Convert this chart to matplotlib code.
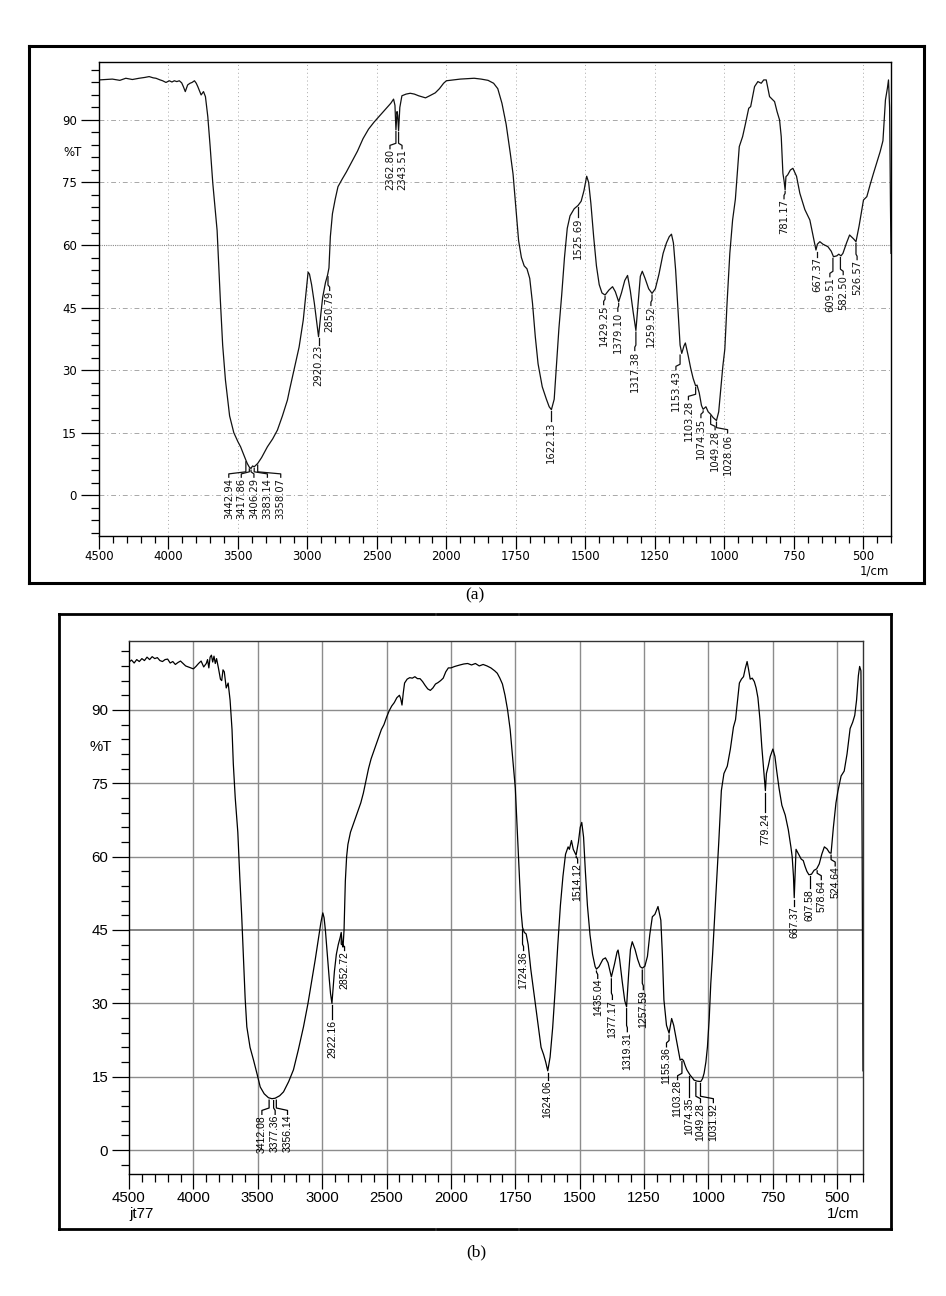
import numpy as np
import matplotlib
matplotlib.use("Agg")
import matplotlib.pyplot as plt
from matplotlib.lines import Line2D

# ---------------- data: spectrum (a) ----------------
wn_a = [4500, 4404, 4350, 4307, 4260, 4211, 4170, 4139, 4110, 4090, 4060, 4042, 4018, 3994, 3975, 3958,
        3940, 3922, 3905, 3893, 3879, 3862, 3845, 3830, 3813, 3800, 3789, 3775, 3765, 3748, 3734, 3717,
        3700, 3681, 3650, 3627, 3610, 3590, 3560, 3530, 3500, 3481, 3460, 3443, 3433, 3418, 3406, 3395,
        3383, 3370, 3358, 3330, 3288, 3250, 3216, 3180, 3144, 3127, 3100, 3060, 3030, 3010, 2995, 2985,
        2970, 2950, 2935, 2920, 2905, 2890, 2870, 2855, 2845, 2835, 2820, 2800, 2780, 2750, 2720, 2680,
        2640, 2600, 2560, 2520, 2480, 2440, 2400, 2380, 2370, 2363, 2355, 2350, 2344, 2335, 2320, 2290,
        2260, 2230, 2200, 2170, 2150, 2120, 2080, 2050, 2020, 2000, 1975, 1950, 1925, 1900, 1875, 1850,
        1830, 1815, 1800, 1785, 1770, 1760, 1750, 1740, 1730, 1720, 1710, 1700, 1690, 1680, 1670, 1655,
        1640, 1630, 1622, 1612, 1605, 1595, 1585, 1575, 1565, 1555, 1540, 1526, 1515, 1505, 1495, 1488,
        1480, 1470, 1460, 1450, 1440, 1429, 1415, 1402, 1392, 1380, 1370, 1358, 1348, 1338, 1328, 1318,
        1310, 1302, 1295, 1285, 1272, 1260, 1248, 1235, 1220, 1208, 1198, 1190, 1183, 1175, 1168, 1159,
        1153, 1145, 1140, 1130, 1121, 1112, 1103, 1098, 1090, 1082, 1076, 1066, 1058, 1049, 1040, 1028,
        1020, 1012, 1005, 998, 990, 980, 970, 960, 946, 934, 924, 912, 905, 891, 879, 867, 858, 849, 837,
        828, 819, 810, 801, 795, 789, 785, 781, 778, 772, 762, 753, 740, 728, 710, 692, 680, 670, 665,
        656, 645, 627, 615, 607, 595, 588, 580, 573, 560, 549, 535, 526, 515, 505, 499, 487, 475, 463,
        450, 439, 429, 420, 413, 409, 405, 402, 400]
t_a = [99.6, 99.8, 99.5, 100.0, 99.7, 100.0, 100.2, 100.4, 100.1, 100.0, 99.6, 99.4, 99.0, 99.4, 99.1, 99.4,
       99.2, 99.4, 98.9, 98.0, 96.8, 98.4, 98.8, 99.0, 99.4, 98.8, 98.0, 96.8, 96.0, 96.8, 95.6, 90.8,
       83.6, 74.8, 63.5, 47.0, 36.0, 27.6, 19.0, 15.0, 12.8, 11.6, 9.8, 8.4, 7.6, 6.7, 6.4, 7.0,
       6.8, 7.2, 7.6, 9.0, 11.6, 13.5, 15.6, 19.0, 22.8, 25.5, 29.5, 35.5, 42.0, 48.5, 53.5, 53.0,
       50.5, 46.0, 42.0, 38.0, 43.0, 47.5, 51.0, 52.8, 54.5, 62.0, 67.5, 71.0, 74.0, 75.8, 77.5, 80.0,
       82.5, 85.5, 87.8, 89.5, 91.0, 92.5, 94.0, 95.0, 93.5, 87.6, 92.0, 91.0, 87.4, 93.0, 95.8, 96.2,
       96.4, 96.2, 95.8, 95.5, 95.3, 95.8, 96.5, 97.5, 98.8, 99.4, 99.6, 99.8, 99.9, 100.0, 99.8, 99.5,
       98.8, 97.5, 94.0, 89.0, 82.0, 77.0, 69.0, 61.0, 57.0, 55.0, 54.3, 52.0, 46.0, 38.0, 31.5, 26.0,
       23.0, 21.2, 20.5, 23.0, 30.0, 40.0, 48.0, 57.0, 64.0, 67.0, 68.7, 69.5, 70.5, 73.0, 76.5, 75.0,
       70.0, 62.0, 55.0, 50.5, 48.5, 48.0, 49.2, 50.0, 48.8, 46.4, 48.5, 51.5, 52.7, 49.0, 44.0, 39.5,
       46.0, 52.5, 53.7, 52.0, 49.5, 48.4, 49.5, 53.0, 58.0, 60.5, 62.0, 62.6, 60.5, 54.0, 46.0, 36.0,
       34.0, 35.8, 36.5, 33.5, 30.5, 28.0, 26.2, 26.4, 24.5, 21.5, 20.6, 21.2, 20.0, 19.4, 18.6, 17.9,
       20.0, 26.0, 31.0, 35.0, 46.0, 58.0, 66.0, 71.0, 83.6, 86.0, 89.0, 92.8, 93.2, 98.0, 99.2, 98.8,
       99.6, 99.6, 95.6, 95.0, 94.4, 92.0, 90.0, 86.0, 77.2, 75.5, 73.2, 76.4, 76.8, 78.0, 78.4,
       76.5, 72.4, 68.5, 66.0, 62.0, 58.8, 60.2, 60.8, 60.2, 59.6, 58.5, 57.2, 57.4, 57.8, 57.4, 58.0,
       60.5, 62.4, 61.5, 60.8, 64.5, 68.5, 70.8, 71.6, 74.5, 77.2, 80.0, 82.4, 85.0, 94.8, 97.6, 99.6,
       93.0, 70.0, 58.0]

# ---------------- data: spectrum (b) ----------------
wn_b = [4500, 4480, 4460, 4440, 4420, 4400, 4380, 4360, 4340, 4320, 4300, 4280, 4260, 4240, 4220, 4200,
        4180, 4160, 4140, 4120, 4100, 4080, 4060, 4040, 4020, 4000, 3980, 3960, 3940, 3920, 3900, 3890,
        3880, 3870, 3860, 3850, 3840, 3830, 3820, 3805, 3790, 3780, 3770, 3760, 3745, 3730, 3715, 3700,
        3690, 3675, 3655, 3640, 3625, 3611, 3598, 3585, 3560, 3533, 3505, 3481, 3450, 3417, 3390, 3365,
        3330, 3300, 3260, 3223, 3185, 3145, 3110, 3080, 3054, 3030, 3010, 2995, 2985, 2975, 2960, 2945,
        2935, 2924, 2915, 2905, 2890, 2875, 2860, 2852, 2845, 2838, 2830, 2820, 2810, 2800, 2780, 2760,
        2740, 2720, 2700, 2680, 2660, 2640, 2620, 2600, 2580, 2560, 2540, 2520, 2500, 2480, 2460, 2440,
        2420, 2400, 2390, 2380, 2370, 2360, 2340, 2320, 2300, 2280, 2260, 2240, 2220, 2200, 2180, 2160,
        2140, 2120, 2100, 2080, 2060, 2040, 2020, 2000, 1985, 1965, 1950, 1935, 1920, 1905, 1890, 1875,
        1860, 1845, 1830, 1820, 1810, 1800, 1790, 1780, 1770, 1760, 1750, 1742, 1735, 1728, 1722, 1715,
        1708, 1700, 1690, 1680, 1665, 1650, 1640, 1632, 1624, 1615, 1605, 1595, 1585, 1575, 1565, 1555,
        1545, 1540, 1532, 1525, 1514, 1505, 1498, 1492, 1485, 1478, 1470, 1460, 1450, 1440, 1435, 1425,
        1410, 1400, 1390, 1377, 1365, 1355, 1351, 1345, 1335, 1325, 1318, 1310, 1303, 1296, 1285, 1275,
        1265, 1257, 1247, 1237, 1228, 1218, 1208, 1196, 1185, 1179, 1173, 1163, 1153, 1143, 1135, 1127,
        1118, 1110, 1103, 1097, 1090, 1084, 1077, 1071, 1063, 1056, 1045, 1030, 1023, 1017, 1010, 1004,
        997, 991, 984, 978, 972, 960, 950, 940, 927, 915, 903, 895, 888, 880, 872, 864, 857, 850, 845,
        838, 830, 822, 815, 808, 800, 793, 785, 779, 775, 768, 760, 750, 742, 735, 726, 715, 702, 690,
        680, 675, 670, 667, 664, 660, 650, 640, 632, 625, 618, 610, 600, 590, 580, 570, 560, 550, 540,
        530, 524, 515, 505, 497, 485, 473, 462, 450, 440, 432, 425, 418, 413, 408, 404, 402, 400]
t_b = [99.8, 100.2, 99.6, 100.3, 99.9, 100.5, 100.1, 100.8, 100.3, 100.9, 100.5, 100.7, 100.1, 99.9, 100.3, 100.4,
       99.6, 99.9, 99.3, 99.7, 100.0, 99.5, 99.0, 98.8, 98.6, 98.4, 98.9, 99.5, 100.0, 98.8, 99.5, 100.3,
       98.6, 100.8, 101.2, 99.8, 101.0, 99.5, 100.5, 98.5, 96.3, 96.0, 98.2, 97.8, 94.5, 95.5, 92.0, 86.0,
       79.0, 72.0, 65.0, 56.0, 48.0, 39.0, 31.0, 25.2, 21.0, 18.4, 15.5, 12.9, 11.5, 10.7, 10.5, 10.6,
       11.1, 11.9, 14.0, 16.4, 20.5, 25.2, 30.0, 34.8, 38.9, 43.0, 46.5, 48.5, 47.5, 45.0, 40.0, 35.0,
       32.0, 30.0, 33.0, 36.5, 40.0, 42.0, 43.5, 44.5, 42.5, 41.5, 45.0, 55.0, 60.0, 62.5, 65.0, 66.5,
       68.0, 69.5, 71.0, 73.0, 75.5, 78.0, 80.0, 81.5, 83.0, 84.5, 86.0, 87.0, 88.5, 89.8, 90.8, 91.5,
       92.5, 93.0, 92.3, 91.0, 93.5, 95.5, 96.3, 96.6, 96.5, 96.8, 96.4, 96.4, 95.8, 95.0, 94.3, 94.0,
       94.5, 95.3, 95.6, 96.0, 96.5, 97.8, 98.6, 98.6, 98.9, 99.2, 99.4, 99.5, 99.2, 99.5, 99.0, 99.3,
       99.0, 98.6, 98.0, 97.5, 96.5, 95.3, 93.0, 90.0, 86.0, 80.0, 74.0, 65.0, 57.0, 49.0, 45.5, 44.5,
       44.2, 42.0, 37.0, 33.0, 27.0, 21.0, 19.5, 18.0, 16.2, 19.0, 25.0, 33.0, 42.0, 50.0, 56.0, 60.5,
       62.0, 61.5, 63.3, 61.5, 60.3, 63.0, 66.0, 67.0, 64.0, 57.0, 50.0, 44.0, 40.0, 37.5, 37.0, 37.5,
       39.0, 39.3, 38.3, 35.4, 38.0, 40.5, 40.9, 39.0, 34.5, 30.5, 29.3, 36.0, 41.0, 42.6, 41.0, 39.0,
       37.5, 37.2, 37.6, 39.6, 44.0, 47.7, 48.2, 49.8, 47.0, 40.0, 30.7, 25.5, 23.9, 26.9, 25.5, 23.2,
       20.5, 18.4, 18.6, 18.3, 17.2, 16.4, 15.8, 15.3, 14.8, 14.3, 14.1, 14.0, 14.6, 15.7, 18.0, 21.1,
       27.0, 34.1, 40.0, 45.7, 51.1, 63.0, 73.5, 77.0, 78.5, 82.0, 86.5, 88.0, 91.5, 95.5, 96.3, 96.8, 98.5, 99.9, 98.5,
       96.3, 96.5, 95.8, 94.5, 92.5, 88.0, 82.5, 77.5, 73.5, 77.0, 78.5, 80.5, 82.0, 80.5, 77.5, 74.0, 70.5, 68.5, 65.5,
       62.0, 60.0, 56.0, 51.6, 56.0, 61.5, 60.5, 59.5, 59.2, 58.0, 57.0, 56.3, 56.4, 57.2, 57.5, 58.5, 60.5, 62.0, 61.6,
       60.8, 60.7, 66.0, 71.0, 73.5, 76.5, 77.5, 81.0, 86.2, 87.5, 88.9, 92.0, 97.0, 98.9, 98.0, 70.0, 40.0, 16.2]

# ---------------- peak labels: (text, peak wn, peak %T, label wn, label top %T) ----------------
peaks_a = [
    ("3442.94", 3443, 8.4, 3566, 4.2), ("3417.86", 3418, 6.7, 3476, 4.2),
    ("3406.29", 3406, 6.4, 3385, 4.2), ("3383.14", 3383, 6.8, 3288, 4.2),
    ("3358.07", 3358, 7.6, 3192, 4.2),
    ("2920.23", 2920, 38.0, 2920, 36.0), ("2850.79", 2852, 52.8, 2840, 49.0),
    ("2362.80", 2363, 87.6, 2406, 83.0), ("2343.51", 2344, 87.4, 2319, 83.0),
    ("1622.13", 1622, 20.5, 1624, 17.6), ("1525.69", 1526, 69.5, 1527, 66.5),
    ("1429.25", 1429, 48.0, 1434, 45.6), ("1379.10", 1380, 46.4, 1383, 44.0),
    ("1317.38", 1318, 39.5, 1322, 34.6), ("1259.52", 1260, 48.4, 1264, 45.4),
    ("1153.43", 1159, 34.0, 1174, 30.0), ("1103.28", 1103, 26.2, 1129, 22.8),
    ("1074.35", 1076, 20.6, 1084, 18.5), ("1049.28", 1049, 19.4, 1033, 15.6),
    ("1028.06", 1028, 17.9, 988, 14.8), ("781.17", 781, 73.2, 785, 71.0),
    ("667.37", 667, 58.8, 667, 57.1), ("609.51", 609, 57.2, 620, 52.3),
    ("582.50", 582, 57.4, 572, 52.8), ("526.57", 526, 60.8, 522, 56.4),
]
peaks_b = [
    ("3412.08", 3412, 10.6, 3468, 7.2), ("3377.36", 3377, 10.5, 3365, 7.2),
    ("3356.14", 3356, 10.6, 3269, 7.2),
    ("2922.16", 2924, 30.0, 2924, 26.6), ("2852.72", 2852, 44.5, 2826, 40.7),
    ("1724.36", 1722, 45.5, 1718, 40.7), ("1624.06", 1624, 16.2, 1626, 14.3),
    ("1514.12", 1514, 60.3, 1508, 58.6), ("1435.04", 1435, 37.0, 1430, 35.0),
    ("1377.17", 1377, 35.4, 1373, 30.7), ("1319.31", 1318, 29.3, 1315, 24.1),
    ("1257.59", 1257, 37.2, 1253, 32.7), ("1155.36", 1153, 23.9, 1163, 21.0),
    ("1103.28", 1103, 18.5, 1120, 14.3), ("1074.35", 1074, 15.5, 1074, 10.8),
    ("1049.28", 1049, 14.2, 1031, 9.6), ("1031.92", 1031, 14.0, 981, 9.6),
    ("779.24", 779, 73.5, 779, 69.0), ("667.37", 667, 51.6, 667, 49.9),
    ("607.58", 607, 56.4, 608, 53.4), ("578.64", 578, 57.5, 562, 55.2),
    ("524.64", 524, 60.7, 508, 58.0),
]

major_x = [4500, 4000, 3500, 3000, 2500, 2000, 1750, 1500, 1250, 1000, 750, 500]
minor_x = [w for w in list(range(4500, 2000, -100)) + list(range(2000, 399, -50)) if w not in major_x]
y_labels = [0, 15, 30, 45, 60, 75, 90]

W, H = 946, 1296


def fwd(w):
    w = np.asarray(w, dtype=float)
    return np.where(w > 2000, 2000 + (w - 2000) / 2.0, w)


def inv(v):
    v = np.asarray(v, dtype=float)
    return np.where(v > 2000, 2000 + (v - 2000) * 2.0, v)


def fx(x):
    return x / W


def fy(y):
    return 1 - y / H


fig = plt.figure(figsize=(W / 100, H / 100), dpi=100)


def frame(x0, y0, x1, y1, gaps_top, gaps_bottom, lw):
    def hline(y, gaps):
        xs = [x0] + [g for gap in gaps for g in gap] + [x1]
        for i in range(0, len(xs), 2):
            fig.add_artist(Line2D([fx(xs[i]), fx(xs[i + 1])], [fy(y), fy(y)], color="black", lw=lw,
                                  solid_capstyle="projecting"))
    hline(y0, gaps_top)
    hline(y1, gaps_bottom)
    for x in (x0, x1):
        fig.add_artist(Line2D([fx(x), fx(x)], [fy(y0), fy(y1)], color="black", lw=lw,
                              solid_capstyle="projecting"))


frame(29, 46, 924, 583, [], [(433, 436), (516, 519)], 2.2)
frame(59, 614, 891, 1229, [(434, 437), (517, 520)], [(434, 437), (517, 520)], 2.0)


def setup(ax, ylim, tick_font, ylen, xlen, xminlen, yminlen, spine_col, xpad, ypad):
    ax.set_xscale("function", functions=(fwd, inv))
    ax.set_xlim(4500, 400)
    ax.set_ylim(*ylim)
    ax.set_xticks(major_x)
    ax.set_xticks(minor_x, minor=True)
    ax.set_xticklabels([str(v) for v in major_x], **tick_font)
    ax.set_yticks(y_labels)
    ax.set_yticks([v for v in range(-9, 104, 3) if v % 15 != 0 and ylim[0] <= v <= ylim[1]], minor=True)
    ax.set_yticklabels([str(v) for v in y_labels], **tick_font)
    ax.tick_params(axis="y", which="major", length=ylen, width=0.9, direction="out", pad=ypad)
    ax.tick_params(axis="y", which="minor", length=yminlen, width=0.9, direction="out")
    ax.tick_params(axis="x", which="major", length=xlen, width=0.9, direction="out", pad=xpad)
    ax.tick_params(axis="x", which="minor", length=xminlen, width=0.9, direction="out")
    for s in ax.spines.values():
        s.set_linewidth(1.0)
        s.set_color(spine_col)
    ax.spines["bottom"].set_color("black")
    ax.spines["left"].set_color("black")


def annotate(ax, peaks, font, col):
    for txt, wp, tp, wt, tt in peaks:
        if abs(float(fwd(wp)) - float(fwd(wt))) < 3:
            ax.plot([wp, wp], [tp - 0.4, tt + 0.1], color=col, lw=0.9)
        else:
            knee = tt + 0.9
            ax.plot([wp, wp, wt, wt], [tp - 0.4, knee + 0.5, knee, tt + 0.1], color=col, lw=0.9)
        ax.text(wt, tt, txt, rotation=90, ha="center", va="top", color=col, **font)


# ---------------- panel (a) ----------------
ax1 = fig.add_axes([fx(99), fy(536), fx(891) - fx(99), fy(62) - fy(536)])
font_a = dict(family=["DejaVu Sans"], fontsize=8.5)
setup(ax1, (-9.8, 103.9), font_a, 13, 9, 5, 6, "black", 1.0, 3)
for w in major_x[1:]:
    ax1.axvline(w, color="#a8a8a8", lw=0.7, ls=(0, (1, 3)), zorder=0)
for v in y_labels:
    if v == 60:
        ax1.axhline(v, color="#8a8a8a", lw=0.8, ls=(0, (1, 1)), zorder=0)
    else:
        ax1.axhline(v, color="#a8a8a8", lw=0.7, ls=(0, (5, 3, 1, 3)), zorder=0)
ax1.plot(wn_a, t_a, color="#111111", lw=0.9)
annotate(ax1, peaks_a, dict(family=["DejaVu Sans"], fontsize=7.2), "#111111")
fig.text(fx(82), fy(152), "%T", ha="right", va="center", fontsize=8.5, family=["DejaVu Sans"])
fig.text(fx(889), fy(571), "1/cm", ha="right", va="center", fontsize=8.5, family=["DejaVu Sans"])
fig.text(fx(475), fy(595), "(a)", ha="center", va="center", fontsize=12.5, family=["Liberation Serif", "DejaVu Serif"])

# ---------------- panel (b) ----------------
ax2 = fig.add_axes([fx(129), fy(1174), fx(863) - fx(129), fy(641) - fy(1174)])
font_b = dict(family=["Liberation Sans Narrow", "Liberation Sans", "DejaVu Sans"], fontsize=10.8)
setup(ax2, (-4.9, 104.1), font_b, 12, 11, 6, 6, "#333333", 1.2, 3)
for w in major_x[1:]:
    ax2.axvline(w, color="#8c8c8c", lw=1.0, zorder=0)
for v in y_labels:
    ax2.axhline(v, color="#707070" if v == 45 else "#8c8c8c", lw=1.2 if v == 45 else 1.0, zorder=0)
ax2.plot(wn_b, t_b, color="black", lw=0.9)
annotate(ax2, peaks_b, dict(family=["Liberation Sans", "DejaVu Sans"], fontsize=7.5), "black")
fig.text(fx(112), fy(747), "%T", ha="right", va="center", **font_b)
fig.text(fx(129), fy(1214), "jt77", ha="left", va="center", **font_b)
fig.text(fx(859), fy(1214), "1/cm", ha="right", va="center", **font_b)
fig.text(fx(476), fy(1252), "(b)", ha="center", va="center", fontsize=12.5, family=["Liberation Serif", "DejaVu Serif"])

fig.savefig("out.png", dpi=100)
